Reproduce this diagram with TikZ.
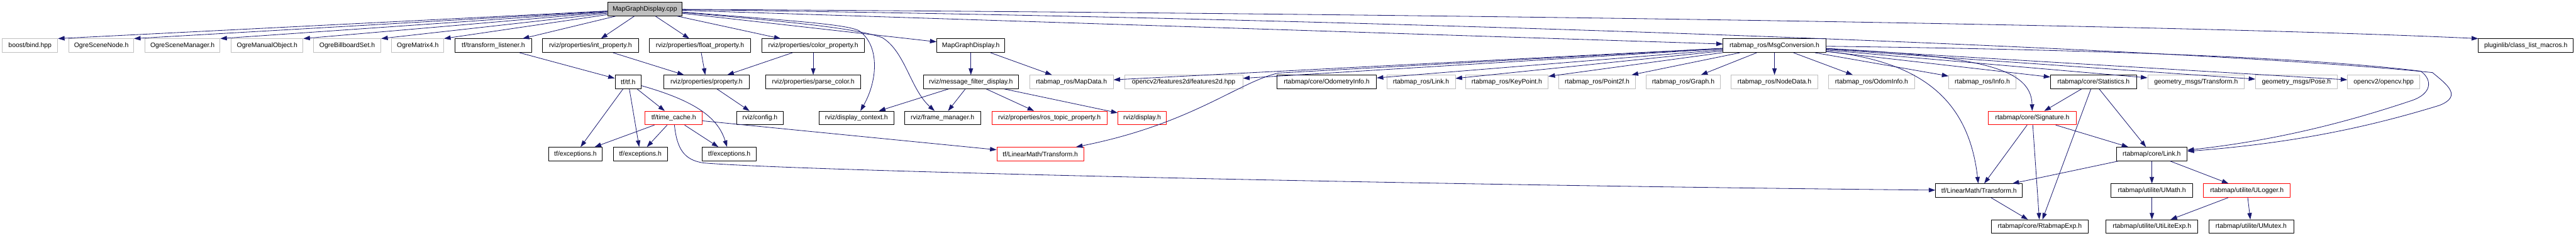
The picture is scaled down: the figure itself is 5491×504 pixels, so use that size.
\documentclass[tikz,border=0pt]{standalone}
\usepackage{fontspec}
\setmainfont{Liberation Sans}
\usepackage{tikz}
\usetikzlibrary{arrows.meta}
\definecolor{DoxBlue}{RGB}{25, 25, 112}
\definecolor{DoxGrey}{RGB}{191, 191, 191}
\definecolor{DoxRed}{RGB}{255, 0, 0}
\tikzset{every node/.style={font=\fontsize{14}{16}\selectfont}, every path/.style={line join=round}, >={Triangle[length=14pt, width=9.5pt]}}
\tikzset{
    header/.style={draw=black, fill=white, line width=1.2pt, minimum height=29pt, inner xsep=2pt, inner ysep=0pt},
    extheader/.style={header, draw=DoxGrey},
    cutheader/.style={header, draw=DoxRed},
    srcfile/.style={header, fill=DoxGrey},
    incl/.style={->, DoxBlue, line width=1.1pt}
}

\begin{document}
\begin{tikzpicture}[x=1pt, y=-1pt]
    \useasboundingbox (0,0) rectangle (5491,504);

    % top: the source file
    \node [srcfile, minimum width=159pt] (root) at (1374.5,19.5) {MapGraphDisplay.cpp};

    % rank 1
    \node [extheader, minimum width=118pt] (bind) at (64,97.5) {boost/bind.hpp};
    \node [extheader, minimum width=138pt] (scenenode) at (216,97.5) {OgreSceneNode.h};
    \node [extheader, minimum width=160pt] (scenemgr) at (389,97.5) {OgreSceneManager.h};
    \node [extheader, minimum width=153pt] (manualobj) at (569.5,97.5) {OgreManualObject.h};
    \node [extheader, minimum width=144pt] (billboard) at (740,97.5) {OgreBillboardSet.h};
    \node [extheader, minimum width=111pt] (matrix) at (890.5,97.5) {OgreMatrix4.h};
    \node [header, minimum width=163pt] (listener) at (1051.5,97.5) {tf/transform\_listener.h};
    \node [header, minimum width=205pt] (intprop) at (1258.5,97.5) {rviz/properties/int\_property.h};
    \node [header, minimum width=216pt] (floatprop) at (1492,97.5) {rviz/properties/float\_property.h};
    \node [header, minimum width=219pt] (colorprop) at (1733.5,97.5) {rviz/properties/color\_property.h};
    \node [header, minimum width=145pt] (mgdh) at (2069.5,97.5) {MapGraphDisplay.h};
    \node [header, minimum width=219pt] (msgconv) at (3782.5,97.5) {rtabmap\_ros/MsgConversion.h};
    \node [header, minimum width=202pt] (pluginlib) at (5384,97.5) {pluginlib/class\_list\_macros.h};

    % rank 2
    \node [header, minimum width=56pt] (tf) at (1339,175) {tf/tf.h};
    \node [header, minimum width=182pt] (property) at (1506,175) {rviz/properties/property.h};
    \node [header, minimum width=203pt] (parsecolor) at (1733.5,175) {rviz/properties/parse\_color.h};
    \node [header, minimum width=203pt] (mfd) at (2069.5,175) {rviz/message\_filter\_display.h};
    \node [extheader, minimum width=178pt] (mapdata) at (2284,175) {rtabmap\_ros/MapData.h};
    \node [extheader, minimum width=252pt] (featdet) at (2523,175) {opencv2/features2d/features2d.hpp};
    \node [header, minimum width=212pt] (odominfo) at (2828,175) {rtabmap/core/OdometryInfo.h};
    \node [extheader, minimum width=146pt] (roslink) at (3029,175) {rtabmap\_ros/Link.h};
    \node [extheader, minimum width=176pt] (keypoint) at (3212,175) {rtabmap\_ros/KeyPoint.h};
    \node [extheader, minimum width=163pt] (point2f) at (3404.5,175) {rtabmap\_ros/Point2f.h};
    \node [extheader, minimum width=158pt] (graph) at (3588,175) {rtabmap\_ros/Graph.h};
    \node [extheader, minimum width=185pt] (nodedata) at (3782.5,175) {rtabmap\_ros/NodeData.h};
    \node [extheader, minimum width=183pt] (odommsg) at (3989.5,175) {rtabmap\_ros/OdomInfo.h};
    \node [extheader, minimum width=143pt] (info) at (4225.5,175) {rtabmap\_ros/Info.h};
    \node [header, minimum width=183pt] (statistics) at (4462.5,175) {rtabmap/core/Statistics.h};
    \node [extheader, minimum width=206pt] (geotf) at (4681,175) {geometry\_msgs/Transform.h};
    \node [extheader, minimum width=174pt] (pose) at (4895,175) {geometry\_msgs/Pose.h};
    \node [extheader, minimum width=154pt] (opencv) at (5081,175) {opencv2/opencv.hpp};

    % rank 3
    \node [cutheader, minimum width=122pt] (timecache) at (1436,252) {tf/time\_cache.h};
    \node [header, minimum width=98pt] (config) at (1620,252) {rviz/config.h};
    \node [header, minimum width=159pt] (dispctx) at (1825.5,252) {rviz/display\_context.h};
    \node [header, minimum width=162pt] (framemgr) at (2009,252) {rviz/frame\_manager.h};
    \node [cutheader, minimum width=246pt] (rostopic) at (2237,252) {rviz/properties/ros\_topic\_property.h};
    \node [cutheader, minimum width=103pt] (display) at (2434.5,252) {rviz/display.h};
    \node [cutheader, minimum width=188pt] (signature) at (4332,252) {rtabmap/core/Signature.h};

    % rank 4
    \node [header, minimum width=115pt] (excA) at (1226.5,329) {tf/exceptions.h};
    \node [header, minimum width=116pt] (excB) at (1365,329) {tf/exceptions.h};
    \node [header, minimum width=115pt] (excC) at (1554.5,329) {tf/exceptions.h};
    \node [cutheader, minimum width=185pt] (tfcut) at (2217.5,329) {tf/LinearMath/Transform.h};
    \node [header, minimum width=151pt] (corelink) at (4586.5,329) {rtabmap/core/Link.h};

    % rank 5 and 6
    \node [header, minimum width=185pt] (tftransform) at (4218.5,407) {tf/LinearMath/Transform.h};
    \node [header, minimum width=174pt] (umath) at (4587,407) {rtabmap/utilite/UMath.h};
    \node [cutheader, minimum width=185pt] (ulogger) at (4789.5,407) {rtabmap/utilite/ULogger.h};
    \node [header, minimum width=206pt] (rtabexp) at (4348,484) {rtabmap/core/RtabmapExp.h};
    \node [header, minimum width=196pt] (utilexp) at (4587,484) {rtabmap/utilite/UtiLiteExp.h};
    \node [header, minimum width=181pt] (umutex) at (4798.5,484) {rtabmap/utilite/UMutex.h};

    % includes of the source file
    \draw [incl] (root) -- (bind.north east);
    \draw [incl] (root) -- (scenenode.north east);
    \draw [incl] (root) -- (scenemgr.north east);
    \draw [incl] (root) -- (manualobj.north east);
    \draw [incl] (root) -- (billboard.north east);
    \draw [incl] (root) -- (matrix.north east);
    \draw [incl] (root) -- (listener);
    \draw [incl] (root) -- (intprop);
    \draw [incl] (root) -- (floatprop);
    \draw [incl] (root) -- (colorprop);
    \draw [incl] (root) -- (mgdh);
    \draw [incl] (root) -- (msgconv);
    \draw [incl] (root) .. controls (3200,30) and (4700,55) .. (pluginlib.north west);
    \draw [incl] (root) .. controls (1700,45) and (1800,52) .. (1830,65) .. controls (1875,95) and (1872,170) .. (dispctx);
    \draw [incl] (root) .. controls (1700,48) and (1820,60) .. (1880,80) .. controls (1930,110) and (1940,190) .. (framemgr);
    \draw [incl] (root) .. controls (3000,40) and (4700,105) .. (5185,155) .. controls (5215,180) and (5250,205) .. (5200,225) .. controls (5060,268) and (4900,305) .. (corelink);

    % rviz and tf side
    \draw [incl] (listener) -- (tf);
    \draw [incl] (intprop) -- (property);
    \draw [incl] (floatprop) -- (property);
    \draw [incl] (colorprop) -- (property);
    \draw [incl] (colorprop) -- (parsecolor);
    \draw [incl] (property) -- (config);
    \draw [incl] (mgdh) -- (mfd);
    \draw [incl] (mgdh) -- (mapdata);
    \draw [incl] (mfd) -- (dispctx);
    \draw [incl] (mfd) -- (framemgr);
    \draw [incl] (mfd) -- (rostopic);
    \draw [incl] (mfd) -- (display);
    \draw [incl] (tf) -- (excA);
    \draw [incl] (tf) -- (excB);
    \draw [incl] (tf) -- (timecache);
    \draw [incl] (tf) .. controls (1480,215) and (1530,250) .. (excC);
    \draw [incl] (timecache) -- (excA);
    \draw [incl] (timecache) -- (excB);
    \draw [incl] (timecache) -- (excC);
    \draw [incl] (timecache) -- (tfcut);
    \draw [incl] (timecache) .. controls (1443,318) and (1458,342) .. (1500,348) .. controls (1700,365) and (3000,395) .. (tftransform);

    % rtabmap side
    \draw [incl] (msgconv) -- (odominfo);
    \draw [incl] (msgconv) -- (roslink);
    \draw [incl] (msgconv) -- (keypoint);
    \draw [incl] (msgconv) -- (point2f);
    \draw [incl] (msgconv) -- (graph);
    \draw [incl] (msgconv) -- (mapdata);
    \draw [incl] (msgconv) -- (featdet);
    \draw [incl] (msgconv) -- (2725,156) .. controls (2640,175) and (2540,265) .. (tfcut);
    \draw [incl] (msgconv) -- (nodedata);
    \draw [incl] (msgconv) -- (odommsg);
    \draw [incl] (msgconv) -- (info);
    \draw [incl] (msgconv) -- (statistics);
    \draw [incl] (msgconv) -- (geotf);
    \draw [incl] (msgconv) -- (pose);
    \draw [incl] (msgconv) -- (opencv);
    \draw [incl] (msgconv) .. controls (4080,130) and (4195,200) .. (tftransform);
    \draw [incl] (msgconv) .. controls (4200,120) and (4330,140) .. (signature);
    \draw [incl] (msgconv) .. controls (4400,105) and (4900,120) .. (5160,152) .. controls (5185,170) and (5185,200) .. (5140,215) .. controls (5000,262) and (4850,300) .. (corelink);
    \draw [incl] (statistics) -- (signature);
    \draw [incl] (statistics) -- (rtabexp);
    \draw [incl] (statistics) -- (corelink);
    \draw [incl] (signature) -- (tftransform);
    \draw [incl] (signature) -- (rtabexp);
    \draw [incl] (signature) -- (corelink);
    \draw [incl] (corelink) -- (tftransform);
    \draw [incl] (corelink) -- (umath);
    \draw [incl] (corelink) -- (ulogger);
    \draw [incl] (tftransform) -- (rtabexp);
    \draw [incl] (umath) -- (utilexp);
    \draw [incl] (ulogger) -- (utilexp);
    \draw [incl] (ulogger) -- (umutex);
\end{tikzpicture}
\end{document}
